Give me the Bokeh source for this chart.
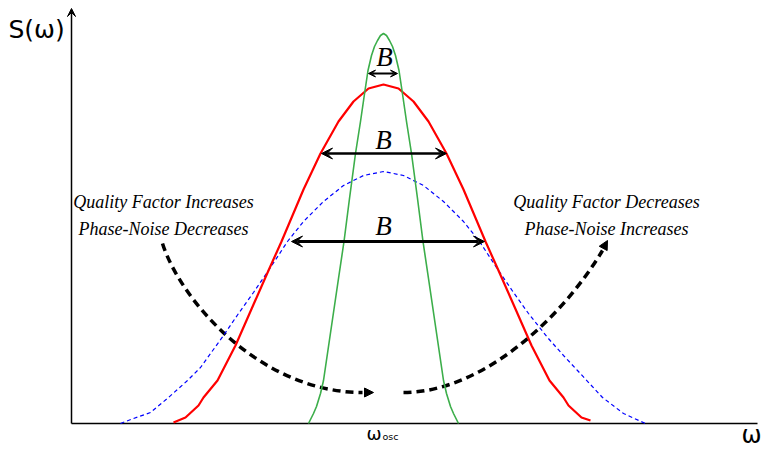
from bokeh.plotting import figure
from bokeh.models import Range1d, Arrow, VeeHead, NormalHead
from bokeh.core.properties import value
from bokeh.embed import file_html
from bokeh.resources import INLINE

# Frequency offset from the oscillation frequency (omega - omega_osc) and
# spectral density S(omega) for three resonators of different quality factor.
high_q_w = [-75, -70, -67, -63, -60, -55, -50, -45, -39.5, -34, -28, -23, -18.5, -15.5, -12, -9, -6, -3, 0,
            3, 6, 9, 12, 15.5, 18.5, 23, 28, 34, 39.5, 45, 50, 55, 60, 63, 67, 70, 75]
high_q_s = [0, 10, 17, 30, 43, 77, 111, 145, 182, 225, 270, 302, 333, 353, 368, 377, 383, 388, 390,
            388, 383, 377, 368, 353, 333, 302, 270, 225, 182, 145, 111, 77, 43, 30, 17, 10, 0]

mid_q_w = [-210, -198, -185, -180, -166, -148, -130, -115, -102, -80, -63, -45, -30, -15, 0,
           15, 30, 45, 63, 80, 102, 115, 130, 148, 166, 180, 185, 198, 207]
mid_q_s = [1, 6, 18, 26, 43, 78, 119, 153, 182, 234, 270, 302, 322, 335, 339,
           335, 322, 302, 270, 234, 182, 153, 119, 78, 43, 26, 18, 6, 3]

low_q_w = [-263, -250, -233, -215, -196, -183, -160, -145, -130, -115, -96, -80, -60, -40, -20, 0,
           20, 40, 60, 80, 96, 115, 130, 145, 164, 180, 194, 219, 240, 262]
low_q_s = [0, 5, 11, 26, 43, 56, 88, 110, 131, 153, 182, 202, 222, 238, 248, 252,
           248, 238, 222, 202, 182, 153, 131, 110, 86, 68, 53, 26, 10, 0]

# Bandwidth markers: level and the two edges of each "B" arrow
bw_level = [350, 270, 182]
bw_left = [-15, -62, -92]
bw_right = [14, 63, 101]
bw_label = ["B", "B", "B"]

left_notes = ["Quality Factor Increases", "Phase-Noise Decreases"]
right_notes = ["Quality Factor Decreases", "Phase-Noise Increases"]

p = figure(width=770, height=450, x_range=Range1d(-383, 387), y_range=Range1d(-27, 423),
           output_backend="svg", toolbar_location=None, min_border=0,
           x_axis_type=None, y_axis_type=None, title=None)
p.grid.visible = False
p.outline_line_color = None
p.background_fill_color = "white"
p.border_fill_color = "white"

# axes
p.segment(x0=[-312], y0=[0], x1=[374], y1=[0], line_color="black", line_width=1.5)
p.add_layout(Arrow(x_start=-312, y_start=0, x_end=-312, y_end=415, line_width=1.5,
                   end=VeeHead(size=8, fill_color="black", line_color="black", line_width=1)))

# curved "trend" arrows
p.bezier(x0=[-221, 20], y0=[180, 31], x1=[-21, 219], y1=[31, 173],
         cx0=[-203, 97], cy0=[123, 31], cx1=[-123, 177], cy1=[31, 103],
         line_color="black", line_width=3.5, line_dash="8 5")
p.add_layout(Arrow(x_start=-22, y_start=31, x_end=-10, y_end=31, line_alpha=0,
                   end=NormalHead(size=9, fill_color="black", line_color="black")))
p.add_layout(Arrow(x_start=218, y_start=172, x_end=224, y_end=183, line_alpha=0,
                   end=NormalHead(size=9, fill_color="black", line_color="black")))

# spectra
p.line(low_q_w, low_q_s, line_color="#0000ff", line_width=1.2, line_dash="4 3")
p.line(mid_q_w, mid_q_s, line_color="#ff0000", line_width=2.2)
p.line(high_q_w, high_q_s, line_color="#3cae4a", line_width=1.6)

# bandwidth arrows
for lvl, x0, x1, w, hs in zip(bw_level, bw_left, bw_right, [2, 2.6, 3], [7, 11, 11]):
    p.add_layout(Arrow(x_start=x0, y_start=lvl, x_end=x1, y_end=lvl, line_width=w,
                       start=VeeHead(size=hs, fill_color="black", line_color="black", line_width=1),
                       end=VeeHead(size=hs, fill_color="black", line_color="black", line_width=1)))
p.text(x=[1, 0, 0], y=[367, 284, 198], text=bw_label, text_font=value("Liberation Serif"),
       text_font_style="italic", text_font_size="27px", text_align="center",
       text_baseline="alphabetic", text_color="black")

note_style = dict(text_font=value("Liberation Serif"), text_font_style="italic",
                  text_font_size="18px", text_align="center", text_baseline="alphabetic",
                  text_color="black")
p.text(x=[-220, -220], y=[222, 195], text=left_notes, **note_style)
p.text(x=[223, 223], y=[222, 195], text=right_notes, **note_style)

# axis labels
sans = value("DejaVu Sans")
p.text(x=[-375], y=[394], text=["S(ω)"], text_font=sans, text_font_size="25px",
       text_align="left", text_baseline="alphabetic", text_color="black")
p.text(x=[358], y=[-11], text=["ω"], text_font=sans, text_font_size="24px",
       text_align="left", text_baseline="alphabetic", text_color="black")
p.text(x=[-17], y=[-10], text=["ω"], text_font=sans, text_font_size="18px",
       text_align="left", text_baseline="alphabetic", text_color="black")
p.text(x=[-1], y=[-13], text=["osc"], text_font=sans, text_font_size="9.5px",
       text_align="left", text_baseline="alphabetic", text_color="black")

open("out.html", "w").write(file_html(p, INLINE))
